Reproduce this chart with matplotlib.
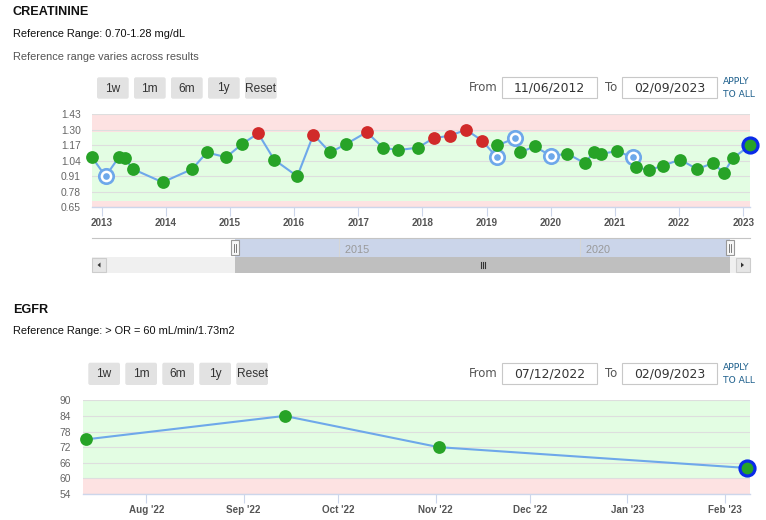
import matplotlib.pyplot as plt
import matplotlib.dates as mdates
import matplotlib.transforms as mtransforms
from matplotlib.patches import Rectangle, FancyBboxPatch, Polygon
from datetime import datetime

# creatinine results (mg/dL); kind: n = normal, h = high, f = flagged, l = latest
crea_dates = ["2012-11-06", "2013-01-22", "2013-04-08", "2013-05-12", "2013-06-28",
              "2013-12-13", "2014-05-30", "2014-08-22", "2014-12-10", "2015-03-10",
              "2015-06-10", "2015-09-09", "2016-01-19", "2016-04-20", "2016-07-24",
              "2016-10-23", "2017-02-17", "2017-05-22", "2017-08-15", "2017-12-06",
              "2018-03-05", "2018-06-04", "2018-09-06", "2018-12-06", "2019-02-28",
              "2019-03-04", "2019-06-14", "2019-07-09", "2019-10-01", "2020-01-05",
              "2020-04-05", "2020-07-13", "2020-09-02", "2020-10-16", "2021-01-12",
              "2021-04-13", "2021-05-01", "2021-07-13", "2021-10-01", "2022-01-08",
              "2022-04-13", "2022-07-12", "2022-09-14", "2022-11-02", "2023-02-09"]
crea_values = [1.07, 0.91, 1.07, 1.06, 0.97,
               0.86, 0.97, 1.11, 1.07, 1.18,
               1.27, 1.05, 0.91, 1.26, 1.11,
               1.18, 1.28, 1.15, 1.13, 1.15,
               1.23, 1.25, 1.30, 1.21, 1.07,
               1.17, 1.23, 1.11, 1.16, 1.08,
               1.10, 1.02, 1.11, 1.10, 1.12,
               1.07, 0.99, 0.96, 1.00, 1.05,
               0.97, 1.02, 0.94, 1.06, 1.17]
crea_kind = ["n", "f", "n", "n", "n",
             "n", "n", "n", "n", "n",
             "h", "n", "n", "h", "n",
             "n", "h", "n", "n", "n",
             "h", "h", "h", "h", "f",
             "n", "f", "n", "n", "f",
             "n", "n", "n", "n", "n",
             "f", "n", "n", "n", "n",
             "n", "n", "n", "n", "l"]
crea_ref = (0.70, 1.28)
crea_yticks = [0.65, 0.78, 0.91, 1.04, 1.17, 1.30, 1.43]
crea_from, crea_to = "2012-11-06", "2023-02-09"
crea_nav_years = [2015, 2020]

# eGFR results (mL/min/1.73m2)
egfr_dates = ["2022-07-13", "2022-09-14", "2022-11-02", "2023-02-08"]
egfr_values = [75, 84, 72, 64]
egfr_kind = ["n", "n", "n", "l"]
egfr_ref_low = 60
egfr_yticks = [54, 60, 66, 72, 78, 84, 90]
egfr_from, egfr_to = "2022-07-12", "2023-02-09"

buttons = ["1w", "1m", "6m", "1y", "Reset"]

W, H = 766, 520
GREEN, RED, LINE = "#27a327", "#d12a2a", "#6ea8ea"
BAND_OK, BAND_BAD = "#e3fde3", "#fde2e2"
AXC = "#ccd6eb"
SANS = "Liberation Sans"


def d(s):
    return datetime.strptime(s, "%Y-%m-%d")


def rect(x0, y0, x1, y1):
    return [x0 / W, 1 - y1 / H, (x1 - x0) / W, (y1 - y0) / H]


fig = plt.figure(figsize=(W / 100, H / 100), dpi=100)
ui = fig.add_axes([0, 0, 1, 1], zorder=5)
ui.set_xlim(0, W)
ui.set_ylim(H, 0)
ui.axis("off")


def header(y0, title, ref, sub, from_s, to_s, bx0, by0, by1, iy0, iy1):
    ui.text(12.7, y0, title, fontsize=9.1, fontweight="bold", family=SANS, va="center", color="#111")
    ui.text(12.7, y0 + 21.3, ref, fontsize=7.9, family=SANS, va="center", color="#111")
    if sub:
        ui.text(12.7, y0 + 44.4, sub, fontsize=7.9, family=SANS, va="center", color="#555")
    for i, b in enumerate(buttons):
        x = bx0 + i * 37
        ui.add_patch(FancyBboxPatch((x, by0), 31.7, by1 - by0, boxstyle="round,pad=0,rounding_size=2",
                                    fc="#e2e2e2", ec="none"))
        ui.text(x + 15.8, (by0 + by1) / 2 + 0.5, b, fontsize=8.6, family=SANS, ha="center", va="center", color="#333")
    yc = (iy0 + iy1) / 2
    ui.text(469.3, yc, "From", fontsize=8.4, family="DejaVu Sans", va="center", color="#555")
    ui.text(605, yc, "To", fontsize=8.4, family="DejaVu Sans", va="center", color="#555")
    for x0, s in [(502.3, from_s), (622.3, to_s)]:
        ui.add_patch(Rectangle((x0, iy0), 94.4, iy1 - iy0, fc="white", ec="#c8c8c8", lw=0.8))
        txt = d(s).strftime("%m/%d/%Y")
        ui.text(x0 + 47.2, yc, txt, fontsize=8.9, family="DejaVu Sans", ha="center", va="center", color="#333")
    ui.text(722.7, yc - 6, "APPLY", fontsize=6.6, family="DejaVu Sans", va="center", color="#1d5f8c")
    ui.text(722.7, yc + 6.7, "TO ALL", fontsize=6.6, family="DejaVu Sans", va="center", color="#1d5f8c")


def chart(box, dates, values, kinds, ylim, yticks, bands, xfrom, xto, fmt, loc, ypad):
    ax = fig.add_axes(rect(*box))
    x = [d(s) for s in dates]
    for lo, hi, c in bands:
        ax.axhspan(lo, hi, color=c, lw=0, zorder=0)
    ax.plot(x, values, color=LINE, lw=1.5, zorder=2, clip_on=False)
    for xi, v, k in zip(x, values, kinds):
        if k == "f":
            ax.plot(xi, v, "o", ms=12.3, color=LINE, mec="none", zorder=3, clip_on=False)
            ax.plot(xi, v, "o", ms=8.4, color="white", mec="none", zorder=3, clip_on=False)
            ax.plot(xi, v, "o", ms=4.8, color=LINE, mec="none", zorder=3, clip_on=False)
        elif k == "l":
            ax.plot(xi, v, "o", ms=10.8, color=GREEN, mec="#0a2be8", mew=2.3, zorder=4, clip_on=False)
        else:
            ax.plot(xi, v, "o", ms=9.2, color=RED if k == "h" else GREEN, mec="none", zorder=3, clip_on=False)
    ax.set_xlim(d(xfrom), d(xto))
    ax.set_ylim(*ylim)
    ax.set_yticks(yticks)
    ax.set_yticklabels([fmt % t for t in yticks])
    ax.xaxis.set_major_locator(loc)
    ax.grid(axis="y", color="#dedede", lw=0.8, zorder=1)
    ax.set_axisbelow(True)
    for s in ["top", "left", "right"]:
        ax.spines[s].set_visible(False)
    ax.spines["bottom"].set_color(AXC)
    ax.spines["bottom"].set_linewidth(1.0)
    ax.tick_params(axis="y", length=0, pad=ypad, labelsize=7.4, labelcolor="#666")
    ax.tick_params(axis="x", length=6.2, width=0.8, color=AXC, pad=1.8, labelsize=7.1, labelcolor="#555")
    for lab in ax.get_yticklabels():
        lab.set_family(SANS)
    for lab in ax.get_xticklabels():
        lab.set_family(SANS)
        lab.set_fontweight("bold")
    return ax


# ---- creatinine ----
header(12.3, "CREATININE", "Reference Range: 0.70-1.28 mg/dL", "Reference range varies across results",
       crea_from, crea_to, 97, 77.3, 98.7, 77.3, 98.3)
ax1 = chart((92, 114.3, 750, 207.3), crea_dates, crea_values, crea_kind, (0.65, 1.43), crea_yticks,
            [(0.65, crea_ref[0], BAND_BAD), (crea_ref[0], crea_ref[1], BAND_OK), (crea_ref[1], 1.43, BAND_BAD)],
            crea_from, crea_to, "%.2f", mdates.YearLocator(), 8)
ax1.xaxis.set_major_formatter(mdates.DateFormatter("%Y"))

# navigator
nav = fig.add_axes(rect(92, 237.7, 750, 257.3))
nav.set_xlim(d("2009-11-17"), d("2023-07-10"))
nav.set_ylim(0, 1)
nav.axvspan(d(crea_from), d(crea_to), color="#cbd5ea", lw=0)
for yr in crea_nav_years:
    nav.axvline(datetime(yr, 1, 1), color="#d6d6d6", lw=0.8)
    nav.text(datetime(yr, 1, 1), 0.35, "  " + str(yr), fontsize=7.8, family=SANS, color="#999",
             va="center", ha="left")
nav.set_xticks([])
nav.set_yticks([])
for s in ["left", "right", "bottom"]:
    nav.spines[s].set_visible(False)
nav.spines["top"].set_color("#c4c4c4")

hx = [nav.transData.transform((mdates.date2num(d(s)), 0))[0] for s in (crea_from, crea_to)]
# scrollbar
ui.add_patch(Rectangle((92, 257.3), 658, 15.4, fc="#f0f0f0", ec="none"))
ui.add_patch(Rectangle((hx[0], 257.3), hx[1] - hx[0], 15.4, fc="#bfbfbf", ec="none"))
ui.add_patch(Rectangle((92, 257.8), 14, 14.4, fc="#e6e6e6", ec="#cccccc", lw=0.8))
ui.add_patch(Rectangle((735.5, 257.8), 14, 14.4, fc="#e6e6e6", ec="#cccccc", lw=0.8))
ui.add_patch(Polygon([(97.5, 265), (100.5, 262.5), (100.5, 267.5)], fc="#333", ec="none"))
ui.add_patch(Polygon([(744, 265), (741, 262.5), (741, 267.5)], fc="#333", ec="none"))
mid = (hx[0] + hx[1]) / 2
for dx in (-2, 0, 2):
    ui.plot([mid + dx, mid + dx], [262, 268], color="#333", lw=0.8)
for h in hx:
    ui.add_patch(Rectangle((h - 3.8, 240), 7.6, 15, fc="#f7f7f7", ec="#999", lw=0.8, zorder=6))
    for dx in (-1, 1):
        ui.plot([h + dx, h + dx], [243.5, 251.5], color="#666", lw=0.6, zorder=7)

# ---- eGFR ----
header(310, "EGFR", "Reference Range: > OR = 60 mL/min/1.73m2", None,
       egfr_from, egfr_to, 88.3, 362.7, 385, 363.3, 384.3)
ax2 = chart((83.3, 400.3, 750, 494), egfr_dates, egfr_values, egfr_kind, (54, 90), egfr_yticks,
            [(54, egfr_ref_low, BAND_BAD), (egfr_ref_low, 90, BAND_OK)],
            egfr_from, egfr_to, "%d", mdates.MonthLocator(), 9)
ax2.xaxis.set_major_formatter(mdates.DateFormatter("%b '%y"))

fig.savefig("out.png", dpi=100)
